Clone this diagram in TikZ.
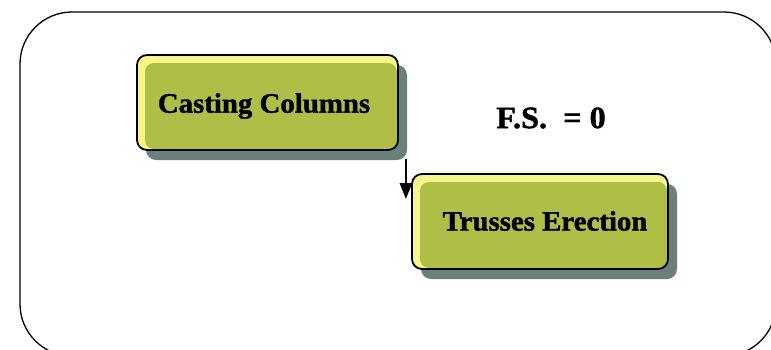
\documentclass[tikz,border=0pt]{standalone}
\usepackage{fontspec}
\setmainfont{Liberation Serif}[BoldFeatures={FakeBold=1.4}]
\usetikzlibrary{shadows,arrows.meta}
\definecolor{boxfill}{HTML}{AEBE46}
\definecolor{boxlight}{HTML}{F6F68A}
\definecolor{shadowgray}{HTML}{6B7F7B}
\tikzset{
  taskbox/.style={draw=black, line width=1.8pt, fill=boxlight, rounded corners=10pt,
    minimum height=95pt, inner sep=0pt,
    drop shadow={shadow xshift=9pt, shadow yshift=-10pt, fill=shadowgray, opacity=1},
    path picture={\fill[boxfill, rounded corners=9pt]
      ([xshift=8pt,yshift=-8pt]path picture bounding box.north west) rectangle
      ([xshift=-1pt,yshift=1pt]path picture bounding box.south east);}},
  label/.style={font=\fontsize{28}{30}\selectfont\bfseries, inner sep=0pt},
  frame/.style={draw=black, line width=1.3pt, rounded corners=52pt},
  link/.style={draw=black, line width=2.6pt, -{Triangle[length=16pt,width=12pt]}}
}
\begin{document}
\begin{tikzpicture}[x=1pt,y=-1pt]
\useasboundingbox (0,0) rectangle (771,349);
\draw[frame] (20,12) rectangle (776,356);
\node[taskbox, minimum width=261pt] (b1) at (267.5,102.5) {};
\node[label] (t1) at (264,106) {\scalebox{1.03}[1]{Casting Columns}};
\node[taskbox, minimum width=256pt] (b2) at (540,221.5) {};
\node[label] (t2) at (545,221) {\scalebox{1.03}[1]{Trusses Erection}};
\node[label, font=\fontsize{31}{34}\selectfont\bfseries] (fs) at (551,118) {\scalebox{1.04}[1]{F.S.\ \ = 0}};
\coordinate (a1) at ([xshift=7pt,yshift=-8pt]b1.south east);
\coordinate (a2) at ([xshift=-7pt,yshift=-26pt]b2.north west);
\draw[link] (a1) -- (a1 |- a2);
\end{tikzpicture}
\end{document}
